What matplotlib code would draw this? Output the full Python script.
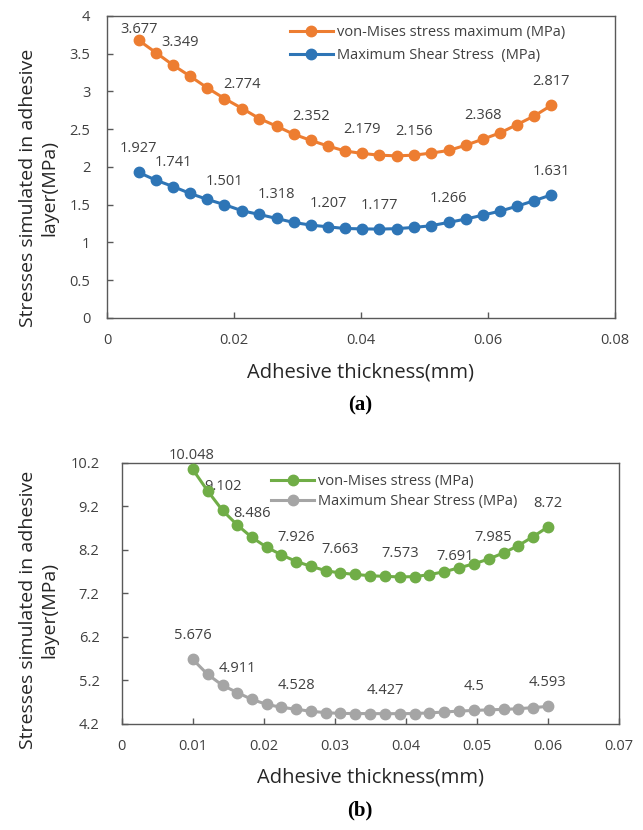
import matplotlib
matplotlib.use('Agg')
import matplotlib.pyplot as plt

plt.rcParams['font.family'] = ['Open Sans', 'DejaVu Sans']

# ---- panel (a) data ----
thick_a = [0.0050, 0.0077, 0.0104, 0.0131, 0.0158, 0.0185, 0.0213, 0.0240, 0.0267,
           0.0294, 0.0321, 0.0348, 0.0375, 0.0402, 0.0429, 0.0456, 0.0483, 0.0510,
           0.0538, 0.0565, 0.0592, 0.0619, 0.0646, 0.0673, 0.0700]
vm_a = [3.677, 3.514, 3.349, 3.201, 3.047, 2.906, 2.774, 2.641, 2.540, 2.434,
        2.352, 2.277, 2.211, 2.179, 2.156, 2.147, 2.156, 2.183, 2.218, 2.288,
        2.368, 2.451, 2.562, 2.676, 2.817]
shear_a = [1.927, 1.825, 1.741, 1.649, 1.570, 1.501, 1.419, 1.371, 1.318, 1.265,
           1.230, 1.207, 1.185, 1.180, 1.177, 1.183, 1.199, 1.221, 1.266, 1.310,
           1.362, 1.415, 1.481, 1.554, 1.631]
vm_a_labels = [0, 2, 6, 10, 13, 16, 20, 24]
shear_a_labels = [0, 2, 5, 8, 11, 14, 18, 24]

# ---- panel (b) data ----
thick_b = [0.0100, 0.0121, 0.0142, 0.0163, 0.0183, 0.0204, 0.0225, 0.0246, 0.0267,
           0.0288, 0.0308, 0.0329, 0.0350, 0.0371, 0.0392, 0.0413, 0.0433, 0.0454,
           0.0475, 0.0496, 0.0517, 0.0538, 0.0558, 0.0579, 0.0600]
vm_b = [10.048, 9.552, 9.102, 8.763, 8.486, 8.257, 8.080, 7.926, 7.815, 7.713,
        7.663, 7.630, 7.600, 7.585, 7.573, 7.580, 7.625, 7.691, 7.782, 7.874,
        7.985, 8.127, 8.288, 8.495, 8.720]
shear_b = [5.676, 5.330, 5.078, 4.911, 4.756, 4.641, 4.572, 4.528, 4.480, 4.450,
           4.432, 4.430, 4.428, 4.427, 4.427, 4.430, 4.445, 4.464, 4.487, 4.500,
           4.515, 4.525, 4.540, 4.565, 4.593]
vm_b_labels = [0, 2, 4, 7, 10, 14, 17, 20, 24]
shear_b_labels = [0, 3, 7, 13, 19, 24]

TXT = '#404040'
SPINE = '#595959'

# label nudges (points) for the few labels that are not straight above the marker
nudge = {
    ('vm_a', 0): (0, 8),
    ('vm_a', 2): (5, 16),
    ('vm_b', 0): (-1, 10),
    ('vm_b', 17): (8, 11),
    ('vm_b', 20): (3, 15.5),
}


def add_labels(ax, key, x, y, idx):
    for i in idx:
        dx, dy = nudge.get((key, i), (0, 17))
        kw = {}
        if key == 'vm_a' and i == 2:
            kw['arrowprops'] = dict(arrowstyle='-', color='#a6a6a6', lw=0.6,
                                    shrinkA=6, shrinkB=0)
        ax.annotate(f'{y[i]:g}', (x[i], y[i]), xytext=(dx, dy),
                    textcoords='offset points', ha='center', va='center',
                    fontsize=10.5, color=TXT, zorder=1, **kw)


def style_axes(ax, ypad):
    for s in ax.spines.values():
        s.set_color(SPINE)
        s.set_linewidth(1.0)
    ax.tick_params(direction='in', length=4, width=1, color=SPINE,
                   labelsize=10.5, labelcolor=TXT)
    ax.tick_params(axis='x', pad=11)
    ax.tick_params(axis='y', pad=ypad)
    ax.set_xlabel('Adhesive thickness(mm)', fontsize=14.5, color='#262626', labelpad=10)


fig = plt.figure(figsize=(6.43, 8.30), dpi=100)

# (a)
ax1 = fig.add_axes([0.1664, 0.6169, 0.790, 0.3639])
ax1.plot(thick_a, vm_a, '-o', color='#ED7D31', lw=2.2, ms=7.5, zorder=4,
         label='von-Mises stress maximum (MPa)')
ax1.plot(thick_a, shear_a, '-o', color='#2E75B6', lw=2.2, ms=7.5, zorder=4,
         label='Maximum Shear Stress  (MPa)')
add_labels(ax1, 'vm_a', thick_a, vm_a, vm_a_labels)
add_labels(ax1, 'shear_a', thick_a, shear_a, shear_a_labels)
ax1.set_xlim(0, 0.08)
ax1.set_ylim(0, 4)
ax1.set_xticks([0, 0.02, 0.04, 0.06, 0.08])
ax1.set_xticklabels(['0', '0.02', '0.04', '0.06', '0.08'])
ax1.set_yticks([0, 0.5, 1, 1.5, 2, 2.5, 3, 3.5, 4])
ax1.set_yticklabels(['0', '0.5', '1', '1.5', '2', '2.5', '3', '3.5', '4'])
style_axes(ax1, 12)
ax1.legend(loc='upper left', bbox_to_anchor=(0.345, 0.995), frameon=False,
           fontsize=10.5, labelcolor=TXT, handlelength=3.0, handletextpad=0.25,
           borderpad=0, labelspacing=0.6)

# (b)
ax2 = fig.add_axes([0.1893, 0.1283, 0.773, 0.3142])
ax2.plot(thick_b, vm_b, '-o', color='#70AD47', lw=2.2, ms=7.5, zorder=4,
         label='von-Mises stress (MPa)')
ax2.plot(thick_b, shear_b, '-o', color='#A5A5A5', lw=2.2, ms=7.5, zorder=4,
         label='Maximum Shear Stress (MPa)')
add_labels(ax2, 'vm_b', thick_b, vm_b, vm_b_labels)
add_labels(ax2, 'shear_b', thick_b, shear_b, shear_b_labels)
ax2.set_xlim(0, 0.07)
ax2.set_ylim(4.2, 10.2)
ax2.set_xticks([0, 0.01, 0.02, 0.03, 0.04, 0.05, 0.06, 0.07])
ax2.set_xticklabels(['0', '0.01', '0.02', '0.03', '0.04', '0.05', '0.06', '0.07'])
ax2.set_yticks([4.2, 5.2, 6.2, 7.2, 8.2, 9.2, 10.2])
ax2.set_yticklabels(['4.2', '5.2', '6.2', '7.2', '8.2', '9.2', '10.2'])
style_axes(ax2, 16)
ax2.legend(loc='upper left', bbox_to_anchor=(0.285, 0.985), frameon=False,
           fontsize=10.5, labelcolor=TXT, handlelength=3.0, handletextpad=0.25,
           borderpad=0, labelspacing=0.35)

# y titles and panel tags
for yc in (1 - 188 / 830, 1 - 610 / 830):
    fig.text(39 / 643, yc, 'Stresses simulated in adhesive\nlayer(MPa)', rotation=90,
             ha='center', va='center', multialignment='center', fontsize=14,
             color='#262626', linespacing=1.25)
fig.text(0.56, 1 - 405 / 830, '(a)', ha='center', va='center', fontsize=15,
         fontweight='bold', family='Liberation Serif')
fig.text(0.56, 1 - 810 / 830, '(b)', ha='center', va='center', fontsize=15,
         fontweight='bold', family='Liberation Serif')

fig.savefig('out.png', dpi=100)
